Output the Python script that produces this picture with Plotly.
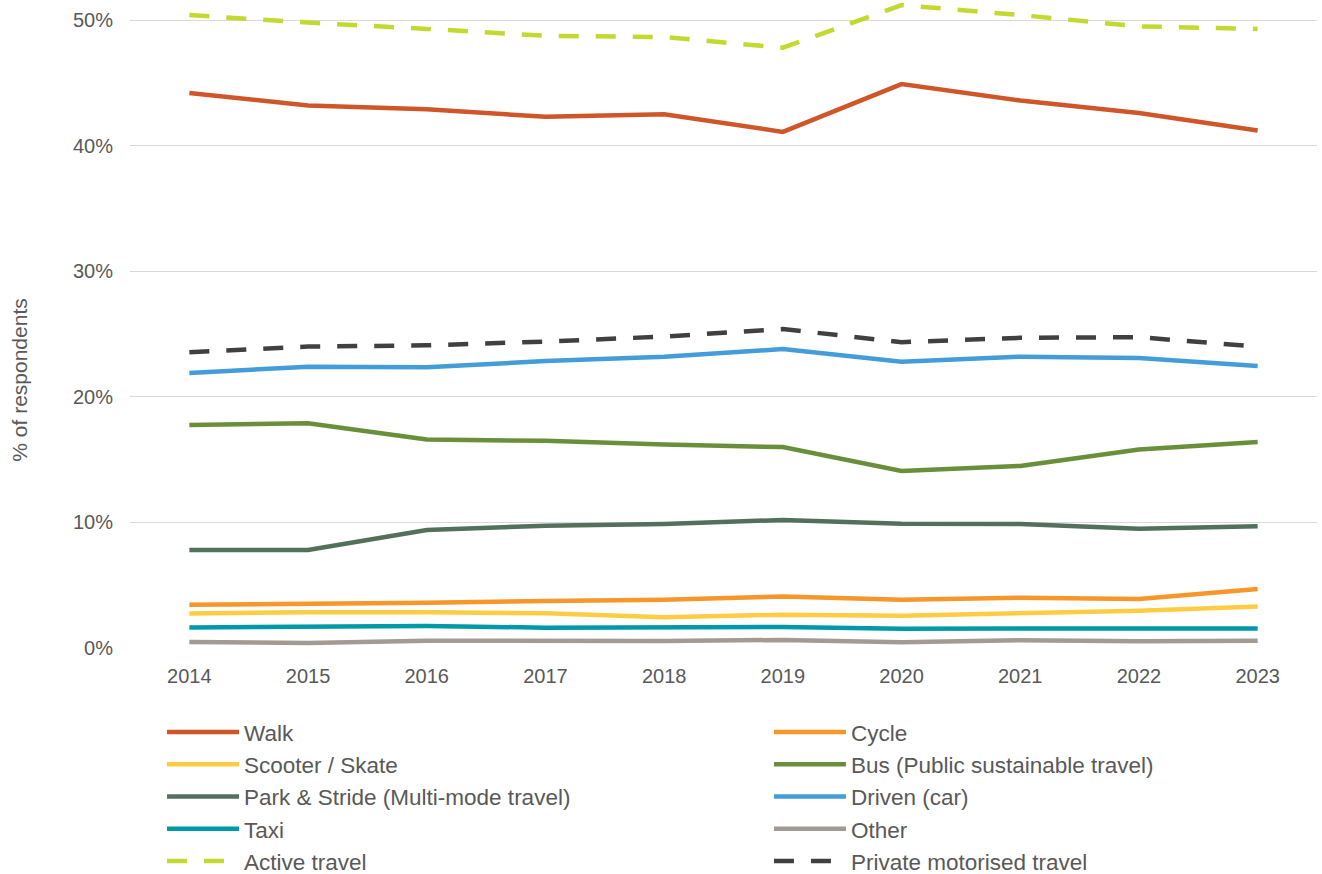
import plotly.graph_objects as go

years = ["2014", "2015", "2016", "2017", "2018", "2019", "2020", "2021", "2022", "2023"]

walk = [44.2, 43.2, 42.9, 42.3, 42.5, 41.1, 44.9, 43.6, 42.6, 41.2]
cycle = [3.45, 3.5, 3.6, 3.75, 3.85, 4.1, 3.85, 4.0, 3.9, 4.7]
scooter = [2.75, 2.85, 2.85, 2.76, 2.45, 2.65, 2.57, 2.8, 2.97, 3.3]
bus = [17.75, 17.9, 16.6, 16.5, 16.2, 16.0, 14.1, 14.5, 15.8, 16.4]
park_stride = [7.8, 7.8, 9.4, 9.73, 9.87, 10.2, 9.9, 9.87, 9.5, 9.7]
driven = [21.9, 22.4, 22.35, 22.85, 23.2, 23.8, 22.8, 23.2, 23.1, 22.45]
taxi = [1.64, 1.7, 1.76, 1.62, 1.64, 1.67, 1.54, 1.54, 1.62, 1.56]
other = [0.48, 0.4, 0.58, 0.56, 0.56, 0.64, 0.45, 0.62, 0.53, 0.58]
active = [50.4, 49.8, 49.3, 48.75, 48.65, 47.8, 51.2, 50.4, 49.5, 49.3]
private = [23.55, 24.0, 24.1, 24.4, 24.8, 25.4, 24.35, 24.7, 24.75, 24.0]

y_ticks = [0, 10, 20, 30, 40, 50]
y_labels = ["0%", "10%", "20%", "30%", "40%", "50%"]

# (name, values, colour, dash, legend column)
series = [
    ("Walk", walk, "#CF5628", "solid", "legend"),
    ("Cycle", cycle, "#F7962A", "solid", "legend2"),
    ("Scooter / Skate", scooter, "#FFCC44", "solid", "legend"),
    ("Bus (Public sustainable travel)", bus, "#6A8F3A", "solid", "legend2"),
    ("Park & Stride (Multi-mode travel)", park_stride, "#52705C", "solid", "legend"),
    ("Driven (car)", driven, "#449DD8", "solid", "legend2"),
    ("Taxi", taxi, "#0099A8", "solid", "legend"),
    ("Other", other, "#A39A93", "solid", "legend2"),
    ("Active travel", active, "#C3D930", "20px,17px", "legend"),
    ("Private motorised travel", private, "#404040", "20px,17px", "legend2"),
]

fig = go.Figure()
for name, vals, color, dash, leg in series:
    fig.add_trace(go.Scatter(
        x=years, y=vals, name=name, mode="lines",
        line=dict(color=color, width=4.5, dash=dash),
        legend=leg,
    ))

font_color = "#595959"
leg_common = dict(
    orientation="v",
    y=-0.097, yanchor="top",
    itemwidth=72,
    font=dict(size=22.5, color=font_color),
    traceorder="normal",
    tracegroupgap=0,
    bgcolor="rgba(0,0,0,0)",
)
fig.update_layout(
    width=1322, height=874,
    margin=dict(l=130, r=5, t=0, b=226, autoexpand=False),
    paper_bgcolor="white", plot_bgcolor="white",
    font=dict(family="Liberation Sans, Arial, sans-serif", color=font_color, size=20),
    showlegend=True,
    legend=dict(x=0.0270, xanchor="left", **leg_common),
    legend2=dict(x=0.5383, xanchor="left", **leg_common),
    annotations=[dict(
        text="% of respondents", xref="paper", yref="paper",
        x=-0.0927, y=0.414, xanchor="center", yanchor="middle",
        textangle=-90, showarrow=False,
        font=dict(size=21, color=font_color),
    )],
)
fig.update_xaxes(
    type="category", range=[-0.5, len(years) - 0.5],
    showgrid=False, showline=False, ticks="",
    tickfont=dict(size=20, color=font_color), zeroline=False,
    ticklabelstandoff=14,
)
fig.update_yaxes(
    range=[0, 51.6], tickmode="array", tickvals=y_ticks, ticktext=y_labels,
    showgrid=True, gridcolor="#D9D9D9", gridwidth=1.3,
    zeroline=False, showline=False, ticks="",
    tickfont=dict(size=20, color=font_color),
    ticklabelstandoff=16,
)

fig.write_html(
    "out.html",
    config={"displayModeBar": False},
    post_script="document.body.style.margin='0';document.body.style.overflow='hidden';",
)
